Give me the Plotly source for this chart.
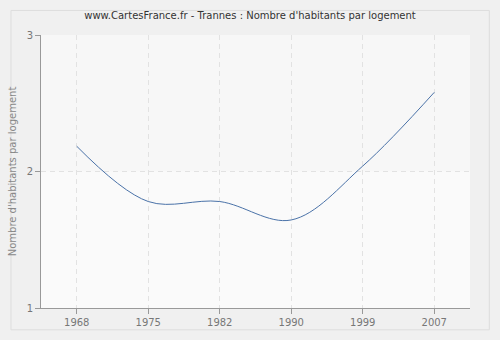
import plotly.graph_objects as go

years = ["1968", "1975", "1982", "1990", "1999", "2007"]
values = [2.185, 1.78, 1.78, 1.645, 2.04, 2.58]
y_ticks = [1, 2, 3]

fig = go.Figure()
fig.add_trace(go.Scatter(
    x=list(range(len(years))), y=values, mode="lines",
    line=dict(shape="spline", smoothing=1.0, color="#4a72a8", width=1),
    hoverinfo="skip", showlegend=False,
))

fig.update_layout(
    width=500, height=340,
    margin=dict(l=40, r=30, t=35, b=30),
    paper_bgcolor="#f0f0f0",
    plot_bgcolor="#fafafa",
    font=dict(family="DejaVu Sans", size=10, color="#777777"),
    title=dict(text="www.CartesFrance.fr - Trannes : Nombre d'habitants par logement",
               x=0.5, xanchor="center", y=0.955, yanchor="middle",
               font=dict(size=10, color="#333333")),
    xaxis=dict(
        range=[-0.5, 5.5],
        tickmode="array", tickvals=list(range(len(years))), ticktext=years,
        showgrid=True, gridcolor="#e2e2e2", griddash="5px,4px", gridwidth=1,
        showline=True, linecolor="#999999", linewidth=1,
        ticks="outside", ticklen=5, tickcolor="#999999",
        zeroline=False,
    ),
    yaxis=dict(
        range=[1, 3],
        tickmode="array", tickvals=y_ticks,
        showgrid=True, gridcolor="#e2e2e2", griddash="5px,4px", gridwidth=1,
        showline=True, linecolor="#999999", linewidth=1,
        ticks="outside", ticklen=5, tickcolor="#999999",
        zeroline=False,
        title=dict(text="Nombre d'habitants par logement", font=dict(size=10, color="#888888"), standoff=8),
    ),
    shapes=[
        dict(type="rect", xref="paper", yref="paper", layer="below",
             x0=-0.07, x1=1.045, y0=-0.08, y1=1.09,
             line=dict(color="#dddddd", width=1), fillcolor="rgba(0,0,0,0)"),
        dict(type="rect", xref="paper", yref="y", layer="below",
             x0=0, x1=1, y0=2, y1=3,
             line=dict(width=0), fillcolor="#f7f7f7"),
    ],
)

fig.write_html("out.html")
